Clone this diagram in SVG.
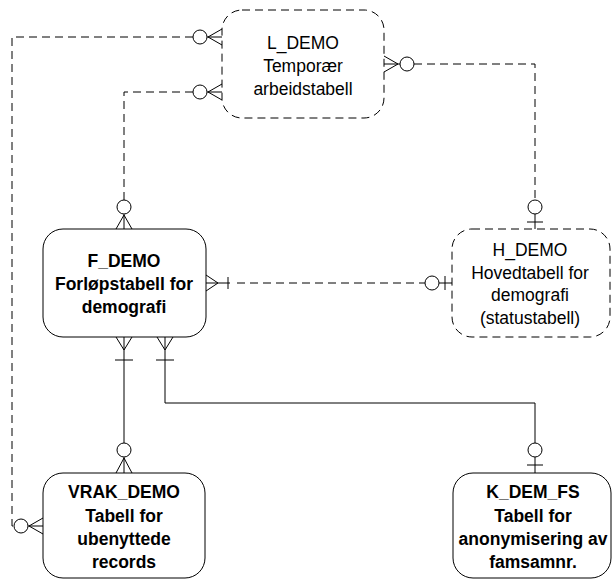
<svg xmlns="http://www.w3.org/2000/svg" width="612" height="580" viewBox="0 0 612 580">
<style>
.node{fill:#fff;stroke:#000;stroke-width:1}
.dash{stroke-dasharray:8 5}
.t{font-family:"Liberation Sans",Arial,sans-serif;font-size:17.5px;text-anchor:middle;fill:#000}
.b{font-weight:bold}
.c{fill:none;stroke:#000;stroke-width:1}
.cd{fill:none;stroke:#000;stroke-width:1;stroke-dasharray:8 5}
.o{fill:#fff;stroke:#000;stroke-width:1}
</style>
<rect width="612" height="580" fill="#fff"/>
<g id="connectors">
  <!-- L_DEMO left top to VRAK_DEMO left -->
  <path class="cd" d="M193,37 H12 V526 H14"/>
  <circle class="o" cx="200" cy="37" r="7"/>
  <path class="c" d="M207,37 H222 M208,37 L222,29 M208,37 L222,45"/>
  <circle class="o" cx="21" cy="526" r="7"/>
  <path class="c" d="M28,526 H43 M29,526 L43,518 M29,526 L43,534"/>
  <!-- L_DEMO left bottom to F_DEMO top -->
  <path class="cd" d="M193,92 H124 V200"/>
  <circle class="o" cx="200" cy="92" r="7"/>
  <path class="c" d="M207,92 H222 M208,92 L222,84 M208,92 L222,100"/>
  <circle class="o" cx="124" cy="207" r="7"/>
  <path class="c" d="M124,214 V229 M124,215 L116,229 M124,215 L132,229"/>
  <!-- L_DEMO right to H_DEMO top -->
  <path class="cd" d="M414,64 H535 V200"/>
  <circle class="o" cx="407" cy="64" r="7"/>
  <path class="c" d="M384,64 H400 M398,64 L384,56 M398,64 L384,72"/>
  <circle class="o" cx="535" cy="207" r="7"/>
  <path class="c" d="M535,214 V229 M527,222 H543"/>
  <!-- F_DEMO right to H_DEMO left -->
  <path class="c" d="M206,283 H230 M218,283 L206,275 M218,283 L206,291 M228,277 V289"/>
  <path class="cd" d="M237,283 H425"/>
  <circle class="o" cx="432" cy="283" r="7"/>
  <path class="c" d="M439,283 H452 M445,276 V290"/>
  <!-- F_DEMO bottom to VRAK_DEMO top -->
  <path class="c" d="M124,337 V443 M124,350 L116,337 M124,350 L132,337 M115,360 H133"/>
  <circle class="o" cx="124" cy="450" r="7"/>
  <path class="c" d="M124,457 V473 M124,458 L116,473 M124,458 L132,473"/>
  <!-- F_DEMO bottom to K_DEM_FS top -->
  <path class="c" d="M165,337 V403 H535 V443 M165,350 L157,337 M165,350 L173,337 M156,360 H174"/>
  <circle class="o" cx="535" cy="450" r="7"/>
  <path class="c" d="M535,457 V473 M527,465 H543"/>
</g>
<g id="L_DEMO">
  <rect class="node dash" x="222" y="10" width="162" height="108" rx="20"/>
  <text class="t" x="303" y="49">L_DEMO</text>
  <text class="t" x="303" y="72">Temporær</text>
  <text class="t" x="303" y="95">arbeidstabell</text>
</g>
<g id="F_DEMO">
  <rect class="node" x="43" y="229" width="163" height="108" rx="20"/>
  <text class="t b" x="124" y="267">F_DEMO</text>
  <text class="t b" x="124" y="290">Forløpstabell for</text>
  <text class="t b" x="124" y="313">demografi</text>
</g>
<g id="H_DEMO">
  <rect class="node dash" x="452" y="229" width="158" height="108" rx="20"/>
  <text class="t" x="530" y="256">H_DEMO</text>
  <text class="t" x="530" y="278.5">Hovedtabell for</text>
  <text class="t" x="530" y="301">demografi</text>
  <text class="t" x="530" y="323.5">(statustabell)</text>
</g>
<g id="VRAK_DEMO">
  <rect class="node" x="43" y="473" width="162" height="105" rx="20"/>
  <text class="t b" x="124" y="498">VRAK_DEMO</text>
  <text class="t b" x="124" y="522">Tabell for</text>
  <text class="t b" x="124" y="545">ubenyttede</text>
  <text class="t b" x="124" y="568">records</text>
</g>
<g id="K_DEM_FS">
  <rect class="node" x="453" y="473" width="158" height="105" rx="20"/>
  <text class="t b" x="533" y="498">K_DEM_FS</text>
  <text class="t b" x="533" y="522">Tabell for</text>
  <text class="t b" x="533" y="545">anonymisering av</text>
  <text class="t b" x="533" y="568">famsamnr.</text>
</g>
</svg>
